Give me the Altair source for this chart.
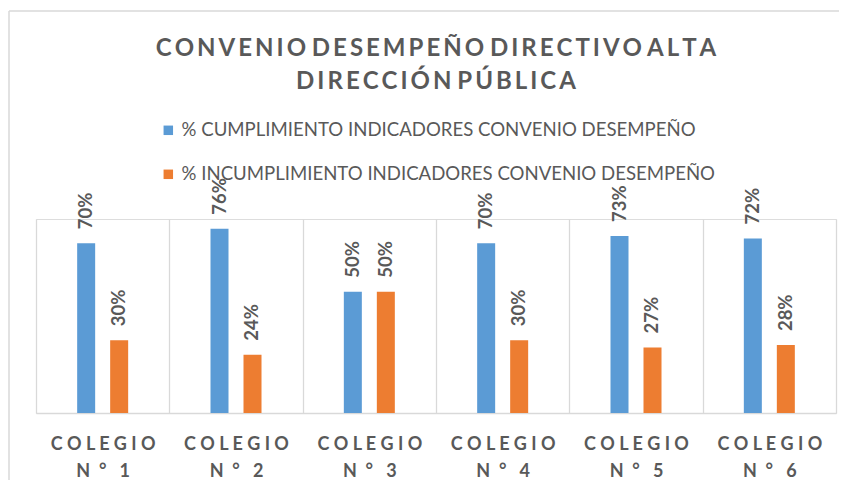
import altair as alt
import pandas as pd

categories = ["COLEGIO N° 1", "COLEGIO N° 2", "COLEGIO N° 3", "COLEGIO N° 4", "COLEGIO N° 5", "COLEGIO N° 6"]
series = ["% CUMPLIMIENTO INDICADORES CONVENIO DESEMPEÑO",
          "% INCUMPLIMIENTO INDICADORES CONVENIO DESEMPEÑO"]
cumplimiento = [0.70, 0.76, 0.50, 0.70, 0.73, 0.72]
incumplimiento = [0.30, 0.24, 0.50, 0.30, 0.27, 0.28]
colors = ["#5B9BD5", "#ED7D31"]
title_lines = ["CONVENIO DESEMPEÑO DIRECTIVO ALTA", "DIRECCIÓN PÚBLICA"]

FONT = "Lato"
GRAY = "#595959"
NB = "\u00a0"


def spaced(s, sep="\u2009"):
    return " ".join(sep.join(list(w)) for w in s.split(" "))


rows = []
for c, a, b in zip(categories, cumplimiento, incumplimiento):
    rows.append({"cat": c, "serie": series[0], "valor": a})
    rows.append({"cat": c, "serie": series[1], "valor": b})
df = pd.DataFrame(rows)

W, H = 800, 194
STEP = W / len(categories)

label_expr = (
    "datum.label == '' ? '' : "
    "[join(split(slice(datum.label,0,7),''),' '), "
    f"'N{NB}{NB}°{NB}{NB}{NB}' + slice(datum.label,-1)]"
)

x_enc = alt.X(
    "cat:N", sort=categories, title=None,
    scale=alt.Scale(paddingInner=0, paddingOuter=0),
    axis=alt.Axis(
        labelExpr=label_expr,
        labelAngle=0, labelFont=FONT, labelFontSize=18, labelFontWeight="bold",
        labelColor=GRAY, labelPadding=22, labelLineHeight=27, labelBaseline="top",
        grid=True, gridColor="#D9D9D9", gridWidth=1.3, tickBand="extent",
        ticks=False, domainColor="#D9D9D9", domainWidth=1.5,
    ),
)
xoff = alt.XOffset("serie:N", sort=series,
                   scale=alt.Scale(paddingInner=0.4545, paddingOuter=0,
                                   range=[STEP / 2 - 25.5, STEP / 2 + 25.5]))
y_enc = alt.Y("valor:Q", axis=None, scale=alt.Scale(domain=[0, 0.8]))

bars = alt.Chart(df).mark_bar().encode(
    x=x_enc, xOffset=xoff, y=y_enc,
    color=alt.Color(
        "serie:N", sort=series,
        scale=alt.Scale(domain=series, range=colors),
        legend=alt.Legend(
            orient="none", legendX=123, legendY=-98, direction="vertical",
            title=None, symbolType="square", symbolSize=90, symbolStrokeWidth=0,
            labelFont=FONT, labelFontSize=18.6, labelColor=GRAY, labelLimit=0,
            labelOffset=4, rowPadding=25,
        ),
    ),
)

labels = alt.Chart(df).mark_text(
    angle=270, align="left", baseline="middle", dx=14,
    font=FONT, fontSize=18.5, fontWeight="bold", color=GRAY,
).encode(
    x=alt.X("cat:N", sort=categories),
    xOffset=xoff, y=y_enc,
    text=alt.Text("valor:Q", format=".0%"),
)

frame_top = alt.Chart(pd.DataFrame({"k": [0]})).mark_rule(color="#D9D9D9", strokeWidth=1.5).encode(
    x=alt.value(-27), x2=alt.value(W + 20), y=alt.value(-208))
frame_left = alt.Chart(pd.DataFrame({"k": [0]})).mark_rule(color="#D9D9D9", strokeWidth=1.5).encode(
    x=alt.value(-27), y=alt.value(-208), y2=alt.value(H + 80))

chart = alt.layer(frame_top, frame_left, bars, labels).properties(
    width=W, height=H,
    autosize=alt.AutoSizeParams(type="none"),
    padding={"left": 28, "top": 211, "right": 3, "bottom": 67},
    title=alt.TitleParams(
        text=[spaced(t) for t in title_lines], anchor="middle",
        font=FONT, fontSize=24, fontWeight="bold", color=GRAY,
        lineHeight=33, offset=-84,
    ),
).configure_view(stroke=None).configure(background="white")

chart.save("out.html", embed_options={"renderer": "svg", "actions": False})
